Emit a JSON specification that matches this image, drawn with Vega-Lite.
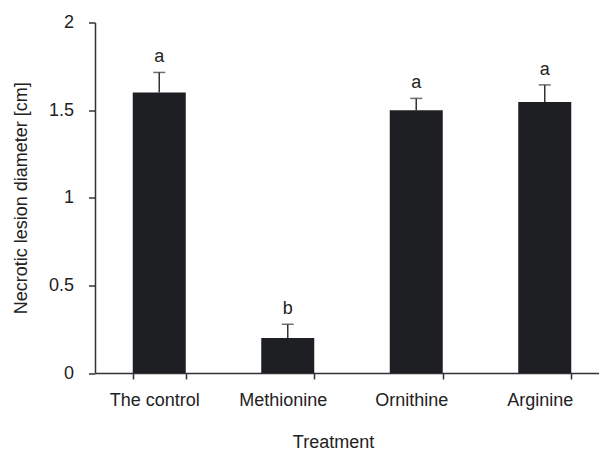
{
  "$schema": "https://vega.github.io/schema/vega-lite/v6.json",
  "width": 504,
  "height": 350.5,
  "autosize": {"type": "none"},
  "padding": {"left": 95, "top": 22.5, "right": 0, "bottom": 77},
  "background": "white",
  "config": {
    "view": {"stroke": null},
    "font": "Liberation Sans",
    "axis": {
      "grid": false,
      "domainColor": "#333333",
      "tickColor": "#333333",
      "domainWidth": 1.5,
      "tickWidth": 1.5,
      "labelColor": "#222222",
      "titleColor": "#222222",
      "labelFontSize": 18,
      "titleFontSize": 18,
      "titleFontWeight": "normal",
      "labelFont": "Liberation Sans",
      "titleFont": "Liberation Sans"
    }
  },
  "data": {
    "values": [
      {"treatment": "The control", "mean": 1.6, "upper": 1.715, "group": "a"},
      {"treatment": "Methionine", "mean": 0.2, "upper": 0.278, "group": "b"},
      {"treatment": "Ornithine", "mean": 1.5, "upper": 1.567, "group": "a"},
      {"treatment": "Arginine", "mean": 1.547, "upper": 1.644, "group": "a"}
    ]
  },
  "encoding": {
    "x": {
      "field": "treatment",
      "type": "nominal",
      "sort": null,
      "scale": {"range": [0, 514], "paddingInner": 0.5875, "paddingOuter": 0.29375},
      "axis": {
        "title": "Treatment",
        "labelAngle": 0,
        "tickBand": "extent",
        "tickSize": 6,
        "labelPadding": 12,
        "labelOffset": -5,
        "titleX": 238,
        "titleY": 74,
        "titleBaseline": "alphabetic"
      }
    }
  },
  "layer": [
    {
      "mark": {"type": "bar", "color": "#1e1f23"},
      "encoding": {
        "y": {
          "field": "mean",
          "type": "quantitative",
          "scale": {"domain": [0, 2]},
          "axis": {
            "title": "Necrotic lesion diameter [cm]",
            "values": [0, 0.5, 1, 1.5, 2],
            "format": "~g",
            "tickSize": 6.5,
            "labelPadding": 15,
            "titlePadding": 18
          }
        }
      }
    },
    {
      "mark": {"type": "rule", "color": "#333333", "strokeWidth": 1.5},
      "encoding": {
        "y": {"field": "mean", "type": "quantitative"},
        "y2": {"field": "upper"}
      }
    },
    {
      "mark": {"type": "tick", "color": "#333333", "size": 12, "thickness": 1.5},
      "encoding": {"y": {"field": "upper", "type": "quantitative"}}
    },
    {
      "mark": {"type": "text", "baseline": "bottom", "dy": -6, "fontSize": 18, "color": "#222222"},
      "encoding": {
        "y": {"field": "upper", "type": "quantitative"},
        "text": {"field": "group"}
      }
    }
  ]
}
